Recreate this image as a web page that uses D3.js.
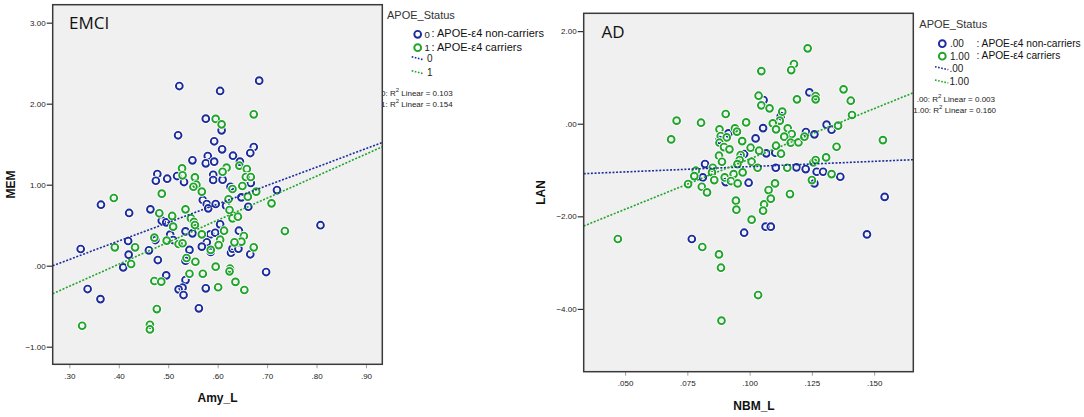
<!DOCTYPE html>
<html>
<head>
<meta charset="utf-8">
<script src="https://cdn.jsdelivr.net/npm/d3@7"></script>
<style>
  body { margin: 0; background: #fff; }
  svg { display: block; font-family: "Liberation Sans", Arial, sans-serif; }
</style>
</head>
<body>
<svg id="chart" width="1084" height="417"></svg>
<script>
// ---- data ----
const groupNames = ["APOE-\u03b54 non-carriers", "APOE-\u03b54 carriers"];

// EMCI: Amy_L vs MEM
const emciNonCarriers = [
  [0.5225,2.218],[0.605,2.157],[0.684,2.284],[0.576,1.815],[0.608,1.671],[0.520,1.61],[0.593,1.536],
  [0.609,1.437],[0.673,1.465],[0.666,1.391],[0.631,1.358],[0.580,1.354],[0.549,1.301],[0.576,1.264],
  [0.593,1.284],[0.645,1.284],[0.478,1.132],[0.475,1.049],[0.498,1.074],[0.518,1.107],[0.532,1.033],
  [0.591,1.123],[0.591,1.058],[0.610,1.062],[0.667,1.021],[0.626,0.975],[0.720,0.934],[0.364,0.753],
  [0.421,0.651],[0.464,0.696],[0.487,0.556],[0.496,0.535],[0.570,0.811],[0.578,0.762],[0.581,0.708],
  [0.596,0.762],[0.617,0.741],[0.648,0.844],[0.662,0.728],[0.605,0.511],[0.643,0.432],[0.535,0.424],
  [0.549,0.40],[0.504,0.383],[0.510,0.317],[0.474,0.317],[0.585,0.387],[0.595,0.407],[0.578,0.289],
  [0.568,0.235],[0.586,0.169],[0.627,0.16],[0.630,0.21],[0.642,0.21],[0.666,0.141],[0.419,0.305],
  [0.420,0.136],[0.323,0.206],[0.461,0.19],[0.543,0.195],[0.409,-0.02],[0.479,0.07],[0.535,0.062],
  [0.496,-0.119],[0.535,-0.177],[0.529,-0.271],[0.521,-0.292],[0.531,-0.362],[0.576,-0.279],
  [0.562,-0.526],[0.698,-0.078],[0.808,0.5],[0.337,-0.288],[0.363,-0.412]
];
const emciCarriers = [
  [0.673,1.869],[0.596,1.812],[0.608,1.745],[0.528,1.202],[0.529,1.116],[0.554,1.091],[0.557,1.0],
  [0.551,0.975],[0.618,1.21],[0.610,1.16],[0.644,1.235],[0.659,1.194],[0.657,1.095],[0.667,1.095],
  [0.650,0.984],[0.630,0.947],[0.678,0.914],[0.568,0.914],[0.487,0.889],[0.390,0.836],[0.482,0.647],
  [0.508,0.614],[0.535,0.696],[0.546,0.585],[0.552,0.54],[0.554,0.502],[0.510,0.482],[0.568,0.387],
  [0.613,0.432],[0.605,0.321],[0.622,0.82],[0.624,0.688],[0.630,0.585],[0.641,0.605],[0.661,0.852],
  [0.709,0.77],[0.736,0.428],[0.653,0.367],[0.648,0.297],[0.634,0.289],[0.673,0.227],[0.602,0.255],
  [0.586,0.195],[0.472,0.346],[0.497,0.309],[0.521,0.268],[0.529,0.277],[0.433,0.227],[0.392,0.227],
  [0.425,0.021],[0.537,0.095],[0.555,0.049],[0.543,-0.099],[0.570,-0.099],[0.596,-0.012],[0.625,-0.037],
  [0.624,-0.069],[0.472,-0.189],[0.486,-0.197],[0.601,-0.266],[0.636,-0.2],[0.654,-0.30],[0.477,-0.535],
  [0.463,-0.729],[0.463,-0.786],[0.326,-0.741]
];
const emciFitIntercepts = [-0.607, -1.070];
const emciFitSlopes = [2.28, 2.72];
const emciGroupLabels = ["0", "1"];
const emciR2 = ["0.103", "0.154"];
const emciXTicks = [0.3, 0.4, 0.5, 0.6, 0.7, 0.8, 0.9];
const emciYTicks = [-1, 0, 1, 2, 3];

// AD: NBM_L vs LAN
const adNonCarriers = [
  [0.124,0.677],[0.1056,0.511],[0.1125,0.166],[0.1054,-0.094],[0.0915,-0.209],[0.1024,-0.317],
  [0.0879,-0.353],[0.1309,-0.021],[0.1329,-0.129],[0.1226,-0.18],[0.126,-0.23],[0.1067,-0.64],
  [0.1103,-0.627],[0.0978,-0.655],[0.0821,-0.871],[0.1105,-0.951],[0.1188,-0.943],[0.1225,-0.979],
  [0.1269,-1.037],[0.1295,-1.037],[0.1364,-1.145],[0.0812,-1.16],[0.0904,-1.26],[0.0996,-1.274],
  [0.126,-1.289],[0.1542,-1.58],[0.1471,-2.39],[0.0978,-2.354],[0.1064,-2.224],[0.1085,-2.224],
  [0.0768,-2.49]
];
const adCarriers = [
  [0.1233,1.628],[0.1178,1.289],[0.1167,1.159],[0.1047,1.137],[0.1377,0.742],[0.1406,0.497],
  [0.119,0.526],[0.1265,0.598],[0.1265,0.526],[0.1036,0.605],[0.1047,0.397],[0.108,0.332],
  [0.1131,0.26],[0.0904,0.21],[0.1411,0.188],[0.0707,0.066],[0.0805,0.022],[0.0685,-0.339],
  [0.0986,0.029],[0.1121,0.066],[0.1093,0.008],[0.1355,-0.042],[0.0879,-0.121],[0.0941,-0.1],
  [0.0949,-0.171],[0.1106,-0.121],[0.1153,-0.1],[0.1169,-0.222],[0.1139,-0.28],[0.0884,-0.266],
  [0.0908,-0.295],[0.097,-0.375],[0.0879,-0.41],[0.0897,-0.504],[0.0919,-0.554],[0.1004,-0.518],
  [0.1038,-0.583],[0.1106,-0.475],[0.1126,-0.648],[0.1165,-0.41],[0.1196,-0.403],[0.122,-0.28],
  [0.1349,-0.497],[0.0877,-0.691],[0.0889,-0.821],[0.0964,-0.677],[0.096,-0.785],[0.0951,-0.872],
  [0.1008,-0.821],[0.1032,-0.951],[0.1151,-0.951],[0.1256,-0.835],[0.1265,-0.785],[0.1307,-0.727],
  [0.0852,-0.951],[0.0784,-1.015],[0.0849,-1.051],[0.0778,-1.131],[0.0858,-1.217],[0.09,-1.16],
  [0.0936,-1.088],[0.0972,-1.051],[0.0925,-1.238],[0.0952,-1.289],[0.0753,-1.303],[0.0808,-1.361],
  [0.0829,-1.483],[0.1102,-1.289],[0.1076,-1.433],[0.1162,-1.519],[0.125,-1.217],[0.1329,-1.088],
  [0.1535,-0.354],[0.0945,-1.662],[0.0947,-1.857],[0.1058,-1.741],[0.1054,-1.879],[0.1085,-1.619],
  [0.1008,-2.073],[0.0471,-2.49],[0.081,-2.663],[0.0877,-2.822],[0.0885,-3.11],[0.1034,-3.7],
  [0.0887,-4.254]
];
const adFitIntercepts = [-1.155, -2.936];
const adFitSlopes = [2.283, 21.75];
const adGroupLabels = [".00", "1.00"];
const adR2 = ["0.003", "0.160"];
const adXTicks = [0.05, 0.075, 0.1, 0.125, 0.15];
const adYTicks = [-4, -2, 0, 2];

// ---- drawing ----
const svg = d3.select("#chart");
const colors = ["#1c2c9c", "#21a42b"];

// SPSS drops the leading zero: 0.30 -> .30, 0.00 -> .00
const spss = f => v => d3.format(f)(v).replace(/^(-?)0\./, "$1.");

function drawPanel(p) {
  const g = svg.append("g");

  // legend (drawn first so the plot frame covers the start of the R² lines, as in SPSS)
  const L = p.legend;
  g.append("text").attr("x", L.titleX).attr("y", L.titleY)
    .attr("font-size", 11).attr("fill", "#333").text("APOE_Status");
  p.groups.forEach((grp, i) => {
    g.append("circle").attr("cx", L.markX).attr("cy", L.markY[i]).attr("r", 3.4)
      .attr("fill", "none").attr("stroke", colors[i]).attr("stroke-width", 1.9);
    g.append("text").attr("x", L.valX).attr("y", L.markY[i] + 3.4)
      .attr("font-size", L.valSize).attr("fill", "#222").text(grp.label);
    g.append("text").attr("x", L.nameX).attr("y", L.markY[i] + 3)
      .attr("font-size", L.nameSize).attr("fill", "#111").text(": " + groupNames[i]);
    g.append("line")
      .attr("x1", L.lineX[0]).attr("y1", L.lineY[i]).attr("x2", L.lineX[1]).attr("y2", L.lineY[i] + 3)
      .attr("stroke", colors[i]).attr("stroke-width", 1.6).attr("stroke-dasharray", "1.6,1.6");
    g.append("text").attr("x", L.lineLabelX).attr("y", L.lineY[i] + 5)
      .attr("font-size", 10).attr("fill", "#222").text(grp.label);
    const r2 = g.append("text").attr("x", L.r2X[i]).attr("y", L.r2Y[i])
      .attr("font-size", 8).attr("fill", "#222");
    r2.append("tspan").text(grp.label + ": R");
    r2.append("tspan").attr("font-size", 6).attr("dy", -3.5).text("2");
    r2.append("tspan").attr("dy", 3.5).text(" Linear = " + grp.r2);
  });

  const x = d3.scaleLinear().domain(p.xDomain).range([p.left, p.right]);
  const y = d3.scaleLinear().domain(p.yDomain).range([p.bottom, p.top]);

  g.append("rect").attr("x", p.left).attr("y", p.top)
    .attr("width", p.right - p.left).attr("height", p.bottom - p.top).attr("fill", "#f0f0f0");

  const clipId = "clip-" + p.id;
  g.append("clipPath").attr("id", clipId).append("rect")
    .attr("x", p.left).attr("y", p.top).attr("width", p.right - p.left).attr("height", p.bottom - p.top);

  // axes
  const xAxis = g.append("g").attr("transform", `translate(0,${p.bottom})`)
    .call(d3.axisBottom(x).tickValues(p.xTicks).tickFormat(spss(p.xFmt)).tickSize(4).tickPadding(5));
  const yAxis = g.append("g").attr("transform", `translate(${p.left},0)`)
    .call(d3.axisLeft(y).tickValues(p.yTicks).tickFormat(spss(".2f")).tickSize(6).tickPadding(1));
  [xAxis, yAxis].forEach(a => {
    a.select(".domain").remove();
    a.selectAll(".tick line").attr("stroke", "#333").attr("stroke-width", 1.2);
    a.selectAll(".tick text").attr("font-size", 8).attr("fill", "#222")
      .attr("font-family", "'Liberation Sans', Arial, sans-serif");
  });
  xAxis.selectAll(".tick line").attr("stroke", "#888").attr("stroke-width", 0.8);

  // points: white halo under each ring
  const pts = g.append("g").attr("clip-path", `url(#${clipId})`);
  p.groups.forEach((grp, i) => {
    const dot = pts.selectAll(null).data(grp.points).enter().append("g")
      .attr("transform", d => `translate(${x(d[0])},${y(d[1])})`);
    dot.append("circle").attr("r", 3.4).attr("fill", "none")
      .attr("stroke", "#fff").attr("stroke-width", 3.6);
    dot.append("circle").attr("r", 3.4).attr("fill", "none")
      .attr("stroke", colors[i]).attr("stroke-width", 1.9);
  });

  // fit lines
  const line = d3.line().x(d => x(d[0])).y(d => y(d[1]));
  p.groups.forEach((grp, i) => {
    const ends = p.xDomain.map(v => [v, grp.intercept + grp.slope * v]);
    pts.append("path").datum(ends).attr("d", line)
      .attr("fill", "none").attr("stroke", colors[i]).attr("stroke-width", 1.6)
      .attr("stroke-dasharray", "2,1.6");
  });

  // frame
  g.append("rect").attr("x", p.left).attr("y", p.top)
    .attr("width", p.right - p.left).attr("height", p.bottom - p.top)
    .attr("fill", "none").attr("stroke", "#3a3a3a").attr("stroke-width", 1.5);

  // panel title
  g.append("text").attr("x", p.titleX).attr("y", p.titleY)
    .attr("font-family", "'Open Sans', sans-serif").attr("font-size", 17).attr("fill", "#111")
    .text(p.title);

  // axis titles
  g.append("text").attr("x", p.xLabelX).attr("y", p.xLabelY).attr("text-anchor", "middle")
    .attr("font-size", 12).attr("font-weight", "bold").attr("fill", "#111").text(p.xLabel);
  g.append("text").attr("transform", `translate(${p.yLabelX},${(p.top + p.bottom) / 2}) rotate(-90)`)
    .attr("text-anchor", "middle").attr("font-size", 12).attr("font-weight", "bold")
    .attr("fill", "#111").text(p.yLabel);
}

drawPanel({
  id: "emci", title: "EMCI", titleX: 69, titleY: 28.5,
  left: 52.7, right: 382.3, top: 4.7, bottom: 364.3,
  xDomain: [0.2664, 0.933], yDomain: [-1.217, 3.222],
  xTicks: emciXTicks, yTicks: emciYTicks, xFmt: ".2f",
  xLabel: "Amy_L", xLabelX: 217.5, xLabelY: 401.5,
  yLabel: "MEM", yLabelX: 14.5,
  groups: [0, 1].map(i => ({
    points: [emciNonCarriers, emciCarriers][i], label: emciGroupLabels[i],
    intercept: emciFitIntercepts[i], slope: emciFitSlopes[i], r2: emciR2[i]
  })),
  legend: {
    titleX: 387, titleY: 19, markX: 417.7, markY: [34.3, 47.7],
    valX: 424.5, valSize: 9.5, nameX: 431.5, nameSize: 11,
    lineX: [411.7, 423.3], lineY: [56.7, 70.7], lineLabelX: 427,
    r2X: [381, 381], r2Y: [95.7, 106.7]
  }
});

drawPanel({
  id: "ad", title: "AD", titleX: 601.5, titleY: 37.8,
  left: 583.7, right: 913.3, top: 13.3, bottom: 371.7,
  xDomain: [0.0334, 0.1657], yDomain: [-5.356, 2.385],
  xTicks: adXTicks, yTicks: adYTicks, xFmt: ".3f",
  xLabel: "NBM_L", xLabelX: 754, xLabelY: 410,
  yLabel: "LAN", yLabelX: 544.5,
  groups: [0, 1].map(i => ({
    points: [adNonCarriers, adCarriers][i], label: adGroupLabels[i],
    intercept: adFitIntercepts[i], slope: adFitSlopes[i], r2: adR2[i]
  })),
  legend: {
    titleX: 919.3, titleY: 28.3, markX: 942.3, markY: [43.7, 56.2],
    valX: 950, valSize: 10, nameX: 976.5, nameSize: 10.2,
    lineX: [935, 948.3], lineY: [66.7, 80], lineLabelX: 949.5,
    r2X: [916.7, 913.3], r2Y: [101.7, 112.7]
  }
});
</script>
</body>
</html>
